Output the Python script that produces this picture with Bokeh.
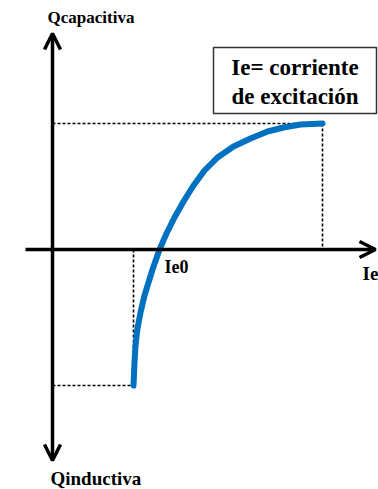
from bokeh.plotting import figure
from bokeh.models import Range1d, Arrow, OpenHead, Label
from bokeh.embed import file_html
from bokeh.resources import INLINE

# Curve: reactive power Q vs excitation current Ie (arbitrary units)
ie = [81, 82, 83, 85, 88, 92, 96, 100, 107, 114, 122, 131, 141, 152, 165, 181, 198, 215, 231, 248, 270]
q = [-136, -113, -96, -79, -63, -46, -33, -20, 0, 16, 32, 48, 64, 79, 92, 103, 111, 118, 122, 125, 126]

label_q_cap = "Qcapacitiva"
label_q_ind = "Qinductiva"
label_ie = "Ie"
label_ie0 = "Ie0"
box_lines = ["Ie= corriente", "de excitación"]

FONT = "Liberation Serif"

p = figure(width=378, height=489, output_backend="svg", toolbar_location=None,
           x_range=Range1d(-52, 326), y_range=Range1d(-240, 249),
           min_border=0, min_border_left=0, min_border_right=0,
           min_border_top=0, min_border_bottom=0)
p.axis.visible = False
p.grid.visible = False
p.outline_line_color = None
p.background_fill_color = "white"

# dotted guide lines
dot = dict(line_color="black", line_width=1.6, line_dash="3 2")
p.line([0, ie[-1]], [q[-1], q[-1]], **dot)
p.line([ie[-1], ie[-1]], [q[-1], 0], **dot)
p.line([0, ie[0]], [q[0], q[0]], **dot)
p.line([ie[0], ie[0]], [0, q[0]], **dot)

# axes with arrows
head = dict(size=16, line_width=3.5, line_color="black")
p.add_layout(Arrow(x_start=0, y_start=0, x_end=0, y_end=216,
                   line_width=3.5, line_color="black", end=OpenHead(**head)))
p.add_layout(Arrow(x_start=0, y_start=0, x_end=0, y_end=-211,
                   line_width=3.5, line_color="black", end=OpenHead(**head)))
p.add_layout(Arrow(x_start=-27, y_start=0, x_end=323, y_end=0,
                   line_width=3.5, line_color="black", end=OpenHead(**head)))

# curve
p.line(ie, q, line_color="#0070C0", line_width=6, line_cap="round", line_join="round")

# box
p.quad(left=[161], right=[324], bottom=[136], top=[202],
       fill_color="white", line_color="#333333", line_width=1.5)
for txt, yy in zip(box_lines, [182, 153]):
    p.add_layout(Label(x=242.5, y=yy, text=txt, text_align="center", text_baseline="middle",
                       text_font=FONT, text_font_style="bold", text_font_size="23px",
                       text_color="black"))

lab = dict(text_font=FONT, text_font_style="bold", text_baseline="middle", text_color="black")
p.add_layout(Label(x=-5, y=232, text=label_q_cap, text_font_size="17px", **lab))
p.add_layout(Label(x=-2, y=-229, text=label_q_ind, text_font_size="19px", **lab))
p.add_layout(Label(x=112, y=-17, text=label_ie0, text_font_size="18px", **lab))
p.add_layout(Label(x=310, y=-24, text=label_ie, text_font_size="19px", **lab))

open("out.html", "w").write(file_html(p, INLINE))
